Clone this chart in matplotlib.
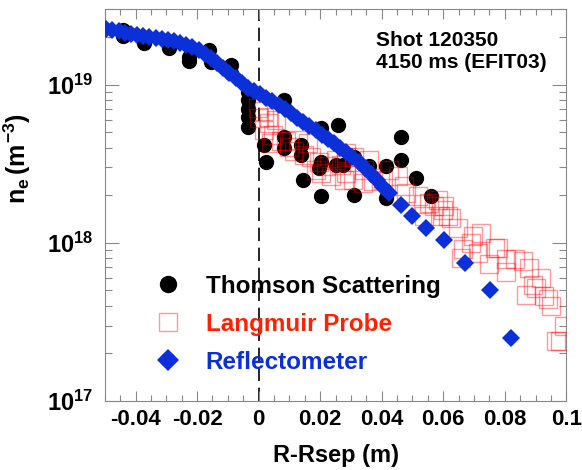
import matplotlib
matplotlib.use('Agg')
import matplotlib.pyplot as plt
from matplotlib.lines import Line2D
from matplotlib.ticker import LogLocator, MultipleLocator, LogFormatterMathtext, NullFormatter, FormatStrFormatter

plt.rcParams['font.family'] = 'Liberation Sans'
plt.rcParams['font.weight'] = 'bold'
plt.rcParams['mathtext.fontset'] = 'custom'
plt.rcParams['mathtext.rm'] = 'Liberation Sans:bold'
plt.rcParams['mathtext.it'] = 'Liberation Sans:bold'
plt.rcParams['mathtext.bf'] = 'Liberation Sans:bold'

# Thomson scattering
ts_r = [-0.0442, -0.0442, -0.0372, -0.0290, -0.0225, -0.0225, -0.0160, -0.0155, -0.0090, -0.0090,
        -0.0033, -0.0033, -0.0033, -0.0033, -0.0033,
        0.0083, 0.0019, 0.0024, 0.0084, 0.0084, 0.0138, 0.0138, 0.0143,
        0.0203, 0.0203, 0.0197, 0.0203, 0.0257, 0.0252, 0.0273,
        0.0311, 0.0311, 0.0360, 0.0414, 0.0414, 0.0463, 0.0463, 0.0512, 0.0561]
ts_ne = [2.22e19, 2.05e19, 1.83e19, 1.71e19, 1.51e19, 1.42e19, 1.66e19, 1.40e19, 1.34e19, 1.19e19,
         9.0e18, 8.0e18, 7.0e18, 6.3e18, 5.4e18,
         8.0e18, 4.18e18, 3.27e18, 4.7e18, 4.0e18, 4.18e18, 3.6e18, 2.5e18,
         5.3e18, 3.27e18, 2.98e18, 1.97e18, 5.6e18, 3.13e18, 3.13e18,
         3.5e18, 2.02e18, 3.05e18, 3.05e18, 1.92e18, 4.7e18, 3.36e18, 2.57e18, 1.97e18]

# Langmuir probe
lp_r = [-0.0003, 0.0019, 0.0029, 0.0002, 0.0035, 0.0057, 0.0019, 0.0046, 0.0040, 0.0073,
        0.0089, 0.0100, 0.0116, 0.0127, 0.0159, 0.0149, 0.0170, 0.0197, 0.0219, 0.0203,
        0.0235, 0.0252, 0.0268, 0.0279, 0.0284, 0.0187,
        0.0284, 0.0311, 0.0360, 0.0344, 0.0371, 0.0403, 0.0425, 0.0452, 0.0474, 0.0479,
        0.0517, 0.0533, 0.0555, 0.0582, 0.0598, 0.0615, 0.0588, 0.0539, 0.0284, 0.0306, 0.0338,
        0.0571, 0.0604, 0.0626, 0.0647, 0.0696, 0.0723, 0.0691, 0.0663, 0.0658, 0.0712,
        0.0767, 0.0777, 0.0750, 0.0805, 0.0805, 0.0832, 0.0859, 0.0880, 0.0918, 0.0891,
        0.0870, 0.0902, 0.0929, 0.0940, 0.0951, 0.0994, 0.0978, 0.0967]
lp_ne = [7.1e18, 6.8e18, 6.3e18, 6.2e18, 5.7e18, 6.0e18, 5.2e18, 4.8e18, 4.3e18, 4.4e18,
         4.4e18, 4.07e18, 3.8e18, 4.5e18, 4.3e18, 3.6e18, 3.5e18, 3.27e18, 3.05e18, 2.77e18,
         2.64e18, 3.36e18, 3.13e18, 2.5e18, 3.5e18, 2.9e18,
         3.7e18, 3.5e18, 3.36e18, 2.9e18, 2.45e18, 2.5e18, 2.9e18, 2.64e18, 2.28e18, 2.07e18,
         1.97e18, 1.75e18, 1.79e18, 1.88e18, 1.62e18, 1.47e18, 1.47e18, 1.47e18, 2.77e18, 2.5e18, 2.39e18,
         1.70e18, 1.70e18, 1.44e18, 1.24e18, 1.10e18, 1.16e18, 1.0e18, 9.1e17, 8.0e17, 8.6e17,
         9.3e17, 9.3e17, 7.3e17, 6.5e17, 7.85e17, 7.85e17, 7.7e17, 6.95e17, 6.0e17, 5.45e17,
         4.7e17, 5.2e17, 4.6e17, 4.4e17, 4.0e17, 2.97e17, 2.39e17, 2.39e17]

# Reflectometer
rf_r = [-0.0495, -0.0475, -0.0455, -0.0435, -0.0415, -0.0395, -0.0375, -0.0355, -0.0335, -0.0315,
        -0.0295, -0.0275, -0.0255, -0.0235, -0.0215, -0.0195, -0.0175, -0.0155, -0.0135, -0.0115,
        -0.0095, -0.0075, -0.0055, -0.0035, -0.0015, 0.0005, 0.0025, 0.0045, 0.0065, 0.0085,
        0.0105, 0.0125, 0.0145, 0.0165, 0.0185, 0.0205, 0.0225, 0.0245, 0.0265, 0.0285,
        0.0305, 0.0325, 0.0345, 0.0365, 0.0385, 0.0405, 0.0425,
        0.0463, 0.0498, 0.0544, 0.0601, 0.0671, 0.0753, 0.0821]
rf_ne = [2.26e19, 2.22e19, 2.18e19, 2.14e19, 2.10e19, 2.07e19, 2.04e19, 2.00e19, 1.98e19, 1.95e19,
         1.91e19, 1.88e19, 1.84e19, 1.79e19, 1.73e19, 1.65e19, 1.57e19, 1.48e19, 1.38e19, 1.28e19,
         1.19e19, 1.11e19, 1.03e19, 9.6e18, 9.2e18, 8.8e18, 8.3e18, 7.85e18, 7.4e18, 7.0e18,
         6.6e18, 6.2e18, 5.8e18, 5.5e18, 5.15e18, 4.83e18, 4.54e18, 4.27e18, 4.0e18, 3.74e18,
         3.49e18, 3.24e18, 2.98e18, 2.73e18, 2.49e18, 2.27e18, 2.08e18,
         1.74e18, 1.48e18, 1.24e18, 1.04e18, 7.5e17, 5.0e17, 2.5e17]

blue = '#0b2fd9'
red_text = '#ff2200'
probe_edge = (1, 0, 0, 0.4)

fig = plt.figure(figsize=(5.82, 4.70), dpi=100)
ax = fig.add_axes([0.18, 0.147, 0.793, 0.833])

ax.axvline(0, color='black', lw=1.2, dashes=(8, 4), zorder=1)
ax.plot(ts_r, ts_ne, 'o', color='black', ms=11, mew=0, zorder=2)
ax.plot(lp_r, lp_ne, 's', mfc='none', mec=probe_edge, ms=13, mew=1, zorder=3)
ax.plot(rf_r, rf_ne, 'D', color=blue, ms=9.4, mew=0, zorder=4)

ax.set_yscale('log')
ax.set_xlim(-0.05, 0.1)
ax.set_ylim(1e17, 3e19)

ax.xaxis.set_major_locator(MultipleLocator(0.02))
ax.xaxis.set_minor_locator(MultipleLocator(0.005))
ax.xaxis.set_major_formatter(FormatStrFormatter('%g'))
ax.yaxis.set_major_locator(LogLocator(base=10))
ax.yaxis.set_minor_locator(LogLocator(base=10, subs=range(2, 10)))
ax.yaxis.set_major_formatter(LogFormatterMathtext())
ax.yaxis.set_minor_formatter(NullFormatter())

ax.tick_params(which='both', direction='in', top=True, right=True, color='#888888', width=0.8)
ax.tick_params(axis='x', which='major', length=7, pad=6, labelsize=16)
ax.tick_params(axis='x', which='minor', length=4)
ax.tick_params(axis='y', which='major', length=10, pad=8, labelsize=17)
ax.tick_params(axis='y', which='minor', length=5)
for sp in ax.spines.values():
    sp.set_color('#888888')
    sp.set_linewidth(0.8)

ax.set_xlabel('R-Rsep (m)', fontsize=17, fontweight='bold', labelpad=10)
ax.set_ylabel(r'$n_e\,(m^{-3})$', fontsize=18)
ax.yaxis.set_label_coords(-0.155, 0.62)

ax.text(0.588, 0.945, 'Shot 120350\n4150 ms (EFIT03)', transform=ax.transAxes,
        fontsize=15, fontweight='bold', va='top', ha='left', linespacing=1.2)

handles = [
    Line2D([], [], ls='none', marker='o', color='black', ms=12.5, mew=0),
    Line2D([], [], ls='none', marker='s', mfc='none', mec=probe_edge, ms=12.5, mew=1),
    Line2D([], [], ls='none', marker='D', color=blue, ms=11.5, mew=0),
]
labels = ['Thomson Scattering', 'Langmuir Probe', 'Reflectometer']
ax.legend(handles, labels, loc='upper left', bbox_to_anchor=(0.121, 0.3226),
          frameon=False, borderpad=0, borderaxespad=0,
          handlelength=0.6, handletextpad=1.25, labelspacing=0.62,
          labelcolor=['black', red_text, blue],
          prop={'weight': 'bold', 'size': 17.5})

fig.savefig('out.png', dpi=100)
